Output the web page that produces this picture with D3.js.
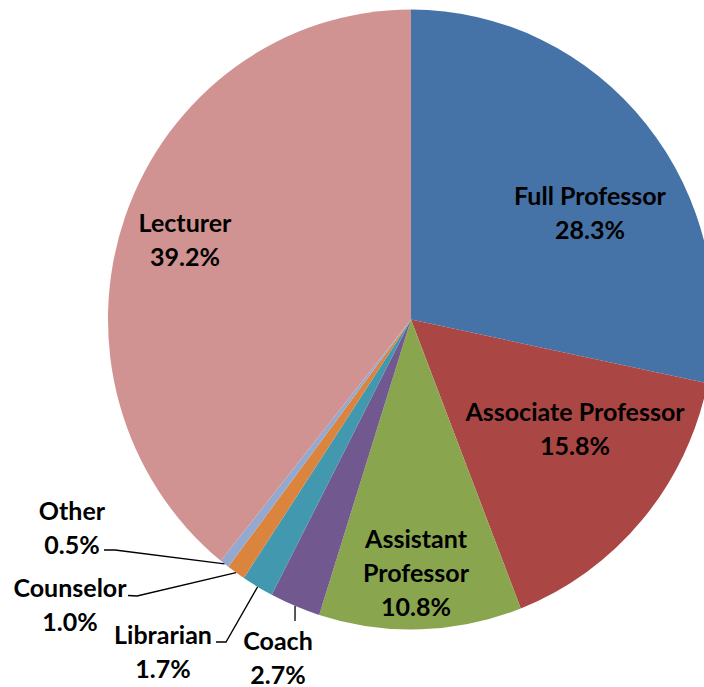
<!DOCTYPE html>
<html>
<head>
<meta charset="utf-8">
<script src="https://cdn.jsdelivr.net/npm/d3@7"></script>
<style>
  body { margin: 0; background: #fff; }
  svg text { font-family: Lato, "Open Sans", sans-serif; font-weight: bold; }
</style>
</head>
<body>
<script>
// data
const categories = ["Full Professor", "Associate Professor", "Assistant Professor", "Coach", "Librarian", "Counselor", "Other", "Lecturer"];
const shares = [28.3, 15.8, 10.8, 2.7, 1.7, 1.0, 0.5, 39.2];
const labelLines = [["Full Professor"], ["Associate Professor"], ["Assistant", "Professor"], ["Coach"], ["Librarian"], ["Counselor"], ["Other"], ["Lecturer"]];
const colors = ["#4572A7", "#AA4643", "#89A54E", "#71588F", "#4198AF", "#DB843D", "#93A9CF", "#D19392"];

// layout (label block centres, offsets from pie centre)
const labelPos = [[179, -106.5], [164, 109.5], [5, 253.5], [-133, 338.5], [-248, 332], [-341, 285.5], [-339, 208.5], [-226, -80]];
// leader lines: knee and end, offsets from pie centre (null = none)
const leaders = [null, null, null, [[-116, 301.5]], [[-185, 322.5], [-195, 322.5]], [[-274, 276.5], [-283, 276]], [[-296, 230.5], [-307, 230.5]], null];

const W = 704, H = 687;
const cx = 411, cy = 319.5, rx = 303, ry = 310;
const fs = 25, lineH = 34;

const svg = d3.select("body").append("svg")
  .attr("width", W)
  .attr("height", H);

const pie = d3.pie().sort(null).value(d => d);
const arcs = pie(shares);
const arc = d3.arc().innerRadius(0).outerRadius(ry);

// slices (slightly squashed horizontally like the original)
svg.append("g")
  .attr("transform", `translate(${cx},${cy}) scale(${rx / ry},1)`)
  .selectAll("path")
  .data(arcs)
  .join("path")
  .attr("d", arc)
  .attr("fill", (d, i) => colors[i]);

// leader lines
const edgePoint = d => {
  const a = (d.startAngle + d.endAngle) / 2;
  return [cx + Math.sin(a) * rx, cy - Math.cos(a) * ry];
};
const line = d3.line();
svg.append("g")
  .selectAll("path")
  .data(arcs.filter((d, i) => leaders[i]))
  .join("path")
  .attr("d", d => {
    const pts = [edgePoint(d)].concat(leaders[d.index].map(p => [cx + p[0], cy + p[1]]));
    return line(pts);
  })
  .attr("fill", "none")
  .attr("stroke", "#000")
  .attr("stroke-width", 1.3);

// labels
const labels = svg.append("g")
  .selectAll("text")
  .data(arcs)
  .join("text")
  .attr("text-anchor", "middle")
  .attr("font-size", fs)
  .attr("fill", "#000");

labels.each(function (d, i) {
  const lines = labelLines[i].concat([shares[i].toFixed(1) + "%"]);
  const x = cx + labelPos[i][0];
  const top = cy + labelPos[i][1] - (lines.length - 1) * lineH / 2;
  d3.select(this).selectAll("tspan")
    .data(lines)
    .join("tspan")
    .attr("x", x)
    .attr("y", (t, k) => top + k * lineH + fs * 0.36)
    .text(t => t);
});
</script>
</body>
</html>
